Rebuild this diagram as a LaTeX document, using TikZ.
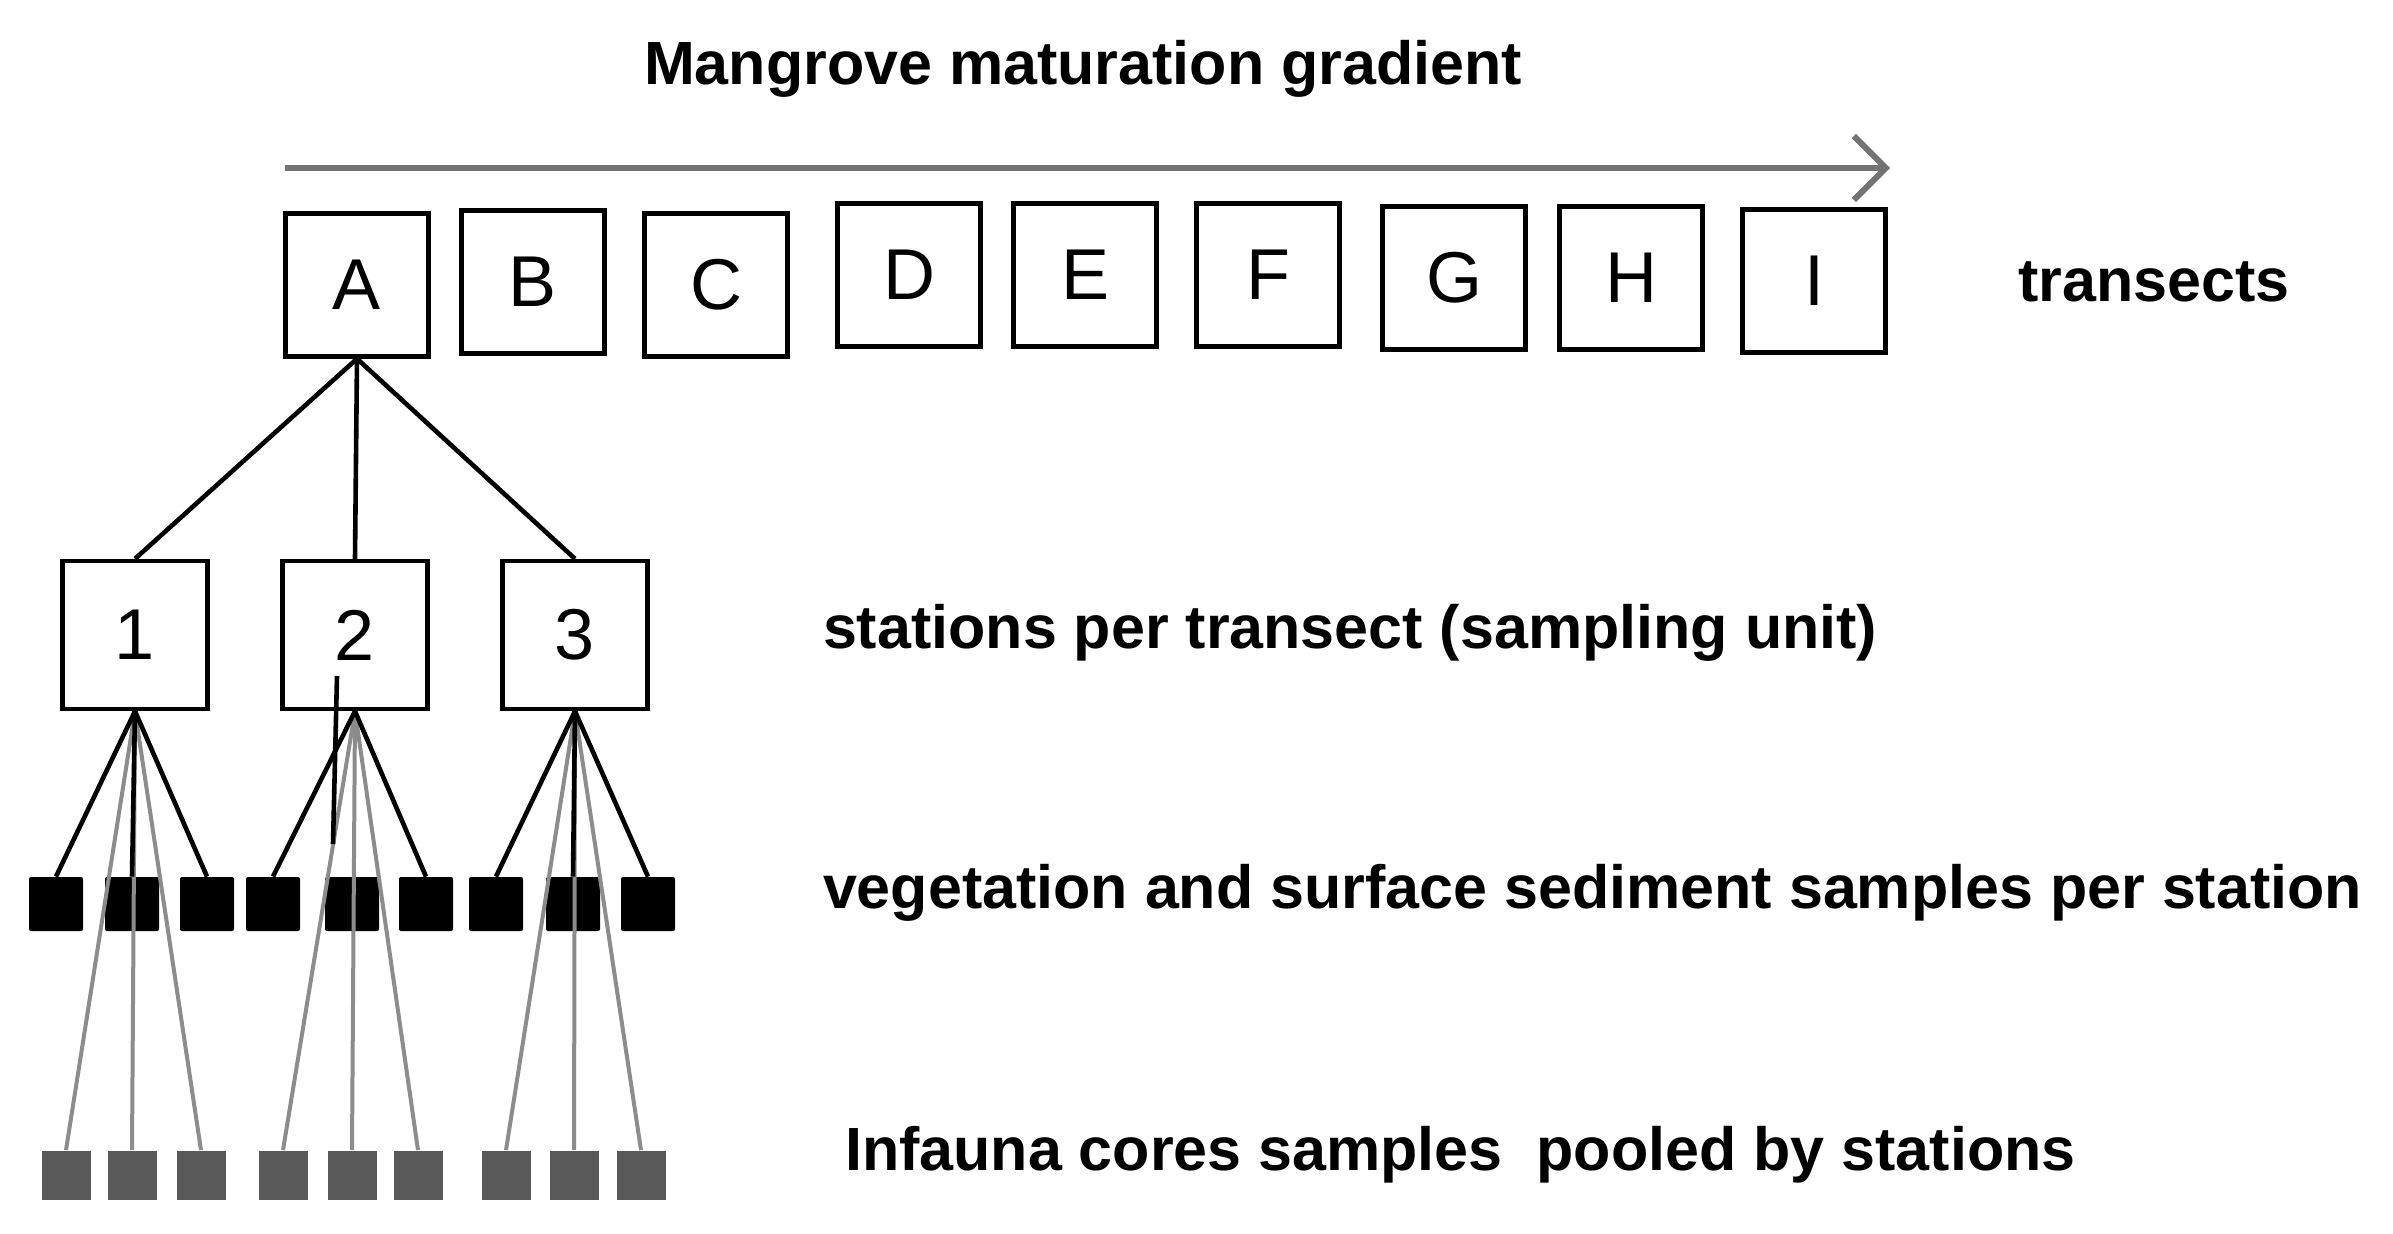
\documentclass[tikz,border=0pt]{standalone}
\usepackage{fontspec}
\setmainfont{Liberation Sans}
\usetikzlibrary{arrows.meta}
\tikzset{
  transect/.style={rectangle, draw=black, line width=2.2pt, minimum width=71.5pt, minimum height=71.5pt, inner sep=0pt, font=\fontsize{36}{42}\selectfont},
  station/.style={rectangle, draw=black, line width=2.2pt, minimum width=72.5pt, minimum height=74pt, inner sep=0pt, font=\fontsize{36}{42}\selectfont},
  veg/.style={rectangle, fill=black, rounded corners=1pt, minimum size=27pt, inner sep=0pt},
  core/.style={rectangle, fill=black!65, minimum size=24.5pt, inner sep=0pt},
  label/.style={anchor=west, font=\bfseries\fontsize{30.5}{36}\selectfont},
  blackline/.style={line width=2.3pt},
  grayline/.style={line width=2pt, draw=black!45},
  arrow/.style={line width=3pt, draw=black!55, -{Straight Barb[length=16pt,width=32pt,line width=3pt]}}
}
\begin{document}
\begin{tikzpicture}[x=0.5pt,y=-0.5pt]
\useasboundingbox (0,0) rectangle (2393,1233);

\node (title) [font=\bfseries\fontsize{30.5}{36}\selectfont] at (1083,69) {Mangrove maturation gradient};
\coordinate (gs) at (285,168);
\coordinate (ge) at (1890,168);
\draw [arrow] (gs) -- (ge);

% transects
\node (A) [transect] at (357,285) {A};
\node (B) [transect] at (533,282) {B};
\node (C) [transect] at (716,285) {C};
\node (D) [transect] at (909,275) {D};
\node (E) [transect] at (1085,275) {E};
\node (F) [transect] at (1268,275) {F};
\node (G) [transect] at (1454,278) {G};
\node (H) [transect] at (1631,278) {H};
\node (I) [transect] at (1814,281) {I};

% stations
\node (s1) [station] at (135,635) {1};
\node (s2) [station] at (355,635) {2};
\node (s3) [station] at (575,635) {3};

\draw [blackline] (A.south) -- (s1.north);
\draw [blackline] (A.south) -- (s2.north);
\draw [blackline] (A.south) -- (s3.north);

% vegetation and sediment samples
\node (v1) [veg] at (56,904) {};
\node (v2) [veg] at (132,904) {};
\node (v3) [veg] at (207,904) {};
\node (v4) [veg] at (273,904) {};
\node (v5) [veg] at (352,904) {};
\node (v6) [veg] at (426,904) {};
\node (v7) [veg] at (496,904) {};
\node (v8) [veg] at (573,904) {};
\node (v9) [veg] at (648,904) {};

% infauna cores
\node (c1) [core] at (66,1175) {};
\node (c2) [core] at (132,1175) {};
\node (c3) [core] at (201,1175) {};
\node (c4) [core] at (283,1175) {};
\node (c5) [core] at (352,1175) {};
\node (c6) [core] at (418,1175) {};
\node (c7) [core] at (506,1175) {};
\node (c8) [core] at (574,1175) {};
\node (c9) [core] at (641,1175) {};

\draw [grayline] (s1.south) -- (c1.north);
\draw [grayline] (s1.south) -- (c2.north);
\draw [grayline] (s1.south) -- (c3.north);
\draw [grayline] (s2.south) -- (c4.north);
\draw [grayline] (s2.south) -- (c5.north);
\draw [grayline] (s2.south) -- (c6.north);
\draw [grayline] (s3.south) -- (c7.north);
\draw [grayline] (s3.south) -- (c8.north);
\draw [grayline] (s3.south) -- (c9.north);

\draw [blackline] (s1.south) -- (v1.north);
\draw [blackline] (s1.south) -- (v2.north);
\draw [blackline] (s1.south) -- (v3.north);
\draw [blackline] (s2.south) -- (v4.north);
\draw [blackline] (s2.south) -- (v6.north);
\draw [blackline] (s3.south) -- (v7.north);
\draw [blackline] (s3.south) -- (v8.north);
\draw [blackline] (s3.south) -- (v9.north);
\coordinate (k1) at (337,676);
\coordinate (k2) at (333,844);
\draw [blackline] (k1) -- (k2);

% labels
\node (ltr) [label] at (2011,282) {transects};
\node (lst) [label] at (816,633) {stations per transect (sampling unit)};
\node (lveg) [label] at (816,893) {vegetation and surface sediment samples per station};
\node (lcore) [label] at (838,1155) {Infauna cores samples\ \ pooled by stations};
\end{tikzpicture}
\end{document}
